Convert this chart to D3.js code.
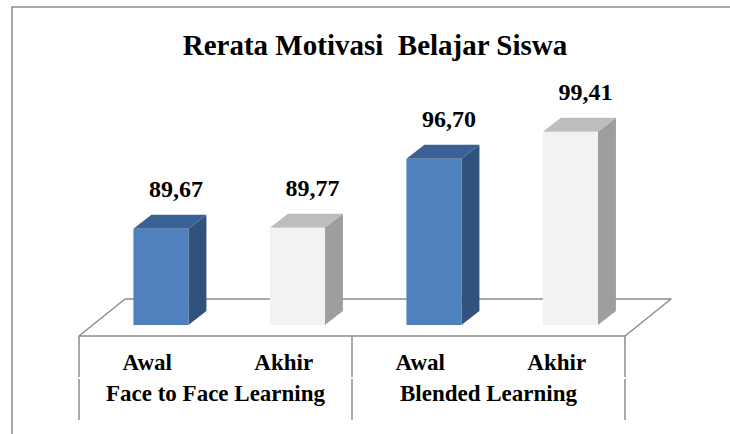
<!DOCTYPE html>
<html>
<head>
<meta charset="utf-8">
<script src="https://cdn.jsdelivr.net/npm/d3@7"></script>
<style>
  body { margin: 0; background: #fff; }
</style>
</head>
<body>
<div id="chart"></div>
<script>
// data
const title = "Rerata Motivasi  Belajar Siswa";
const groups = ["Face to Face Learning", "Blended Learning"];
const phases = ["Awal", "Akhir"];
const values = [89.67, 89.77, 96.70, 99.41];
const yDomain = [80, 100];

const width = 730, height = 434;
const serif = "'Liberation Serif', 'Times New Roman', Times, serif";

const svg = d3.select("#chart")
    .append("svg")
    .attr("width", width)
    .attr("height", height)
    .attr("font-family", serif)
    .attr("font-weight", "bold");

// outer frame (cut off by the picture on the right and bottom)
svg.append("rect")
    .attr("x", 12).attr("y", 7)
    .attr("width", 900).attr("height", 900)
    .attr("fill", "none")
    .attr("stroke", "#8c8c8c")
    .attr("stroke-width", 1.5);

svg.append("text")
    .attr("x", 375).attr("y", 55)
    .attr("text-anchor", "middle")
    .attr("font-size", 29)
    .style("white-space", "pre")
    .text(title);

// categories: one per group/phase pair
const cats = [];
groups.forEach(g => phases.forEach(p => cats.push(g + "|" + p)));

const floorFront = 336, floorDepthX = 46, floorDepthY = 37;
const x = d3.scaleBand()
    .domain(cats)
    .range([79, 625]);

const gx = d3.scaleBand()
    .domain(groups)
    .range([79, 625]);

// bars sit a bit behind the front edge of the floor
const barFrontT = 11 / floorDepthY;
const barOffX = floorDepthX * barFrontT;
const barBase = floorFront - floorDepthY * barFrontT;
const y = d3.scaleLinear()
    .domain(yDomain)
    .range([barBase, 126]);

const barW = 55, depX = 18, depY = 14;

// floor
const fl = 79, fr = 625;
svg.append("path")
    .attr("d", `M${fl},${floorFront} L${fl + floorDepthX},${floorFront - floorDepthY} L${fr + floorDepthX},${floorFront - floorDepthY} L${fr},${floorFront} Z`)
    .attr("fill", "#fff")
    .attr("stroke", "#8c8c8c")
    .attr("stroke-width", 1.5)
    .attr("stroke-linejoin", "round");

const colors = [
    { front: "#4f81bd", side: "#30527c", top: "#3a6195" },
    { front: "#f2f2f2", side: "#9e9e9e", top: "#bdbdbd" }
];

const bars = svg.append("g")
    .selectAll("g")
    .data(values.map((v, i) => ({ v: v, cat: cats[i], c: colors[i % 2] })))
    .enter()
    .append("g");

bars.each(function (d) {
    const g = d3.select(this);
    const x0 = x(d.cat) + x.bandwidth() / 2 + barOffX - barW / 2;
    const x1 = x0 + barW;
    const yt = y(d.v), yb = y(yDomain[0]);
    g.append("path")
        .attr("d", `M${x1},${yt} L${x1 + depX},${yt - depY} L${x1 + depX},${yb - depY} L${x1},${yb} Z`)
        .attr("fill", d.c.side);
    g.append("path")
        .attr("d", `M${x0},${yt} L${x0 + depX},${yt - depY} L${x1 + depX},${yt - depY} L${x1},${yt} Z`)
        .attr("fill", d.c.top);
    g.append("rect")
        .attr("x", x0).attr("y", yt)
        .attr("width", barW).attr("height", yb - yt)
        .attr("fill", d.c.front);
});

// value labels
const fmt = d3.formatLocale({ decimal: ",", thousands: ".", grouping: [3], currency: ["", ""] }).format(".2f");
svg.append("g")
    .selectAll("text")
    .data(values.map((v, i) => ({ v: v, cat: cats[i] })))
    .enter()
    .append("text")
    .attr("x", d => x(d.cat) + x.bandwidth() / 2 + barOffX + 15)
    .attr("y", d => y(d.v) - 32)
    .attr("text-anchor", "middle")
    .attr("font-size", 24)
    .text(d => fmt(d.v));

// category table lines
const dividers = [79, gx(groups[1]), 625];
dividers.forEach(xx => {
    svg.append("line")
        .attr("x1", xx).attr("x2", xx)
        .attr("y1", floorFront).attr("y2", 377)
        .attr("stroke", "#8c8c8c").attr("stroke-width", 1.5);
    svg.append("line")
        .attr("x1", xx).attr("x2", xx)
        .attr("y1", 379).attr("y2", 420)
        .attr("stroke", "#8c8c8c").attr("stroke-width", 1.5);
});

svg.append("g")
    .selectAll("text")
    .data(cats)
    .enter()
    .append("text")
    .attr("x", d => x(d) + x.bandwidth() / 2)
    .attr("y", 370)
    .attr("text-anchor", "middle")
    .attr("font-size", 23)
    .text(d => d.split("|")[1]);

svg.append("g")
    .selectAll("text")
    .data(groups)
    .enter()
    .append("text")
    .attr("x", d => gx(d) + gx.bandwidth() / 2)
    .attr("y", 401)
    .attr("text-anchor", "middle")
    .attr("font-size", 23)
    .text(d => d);
</script>
</body>
</html>
